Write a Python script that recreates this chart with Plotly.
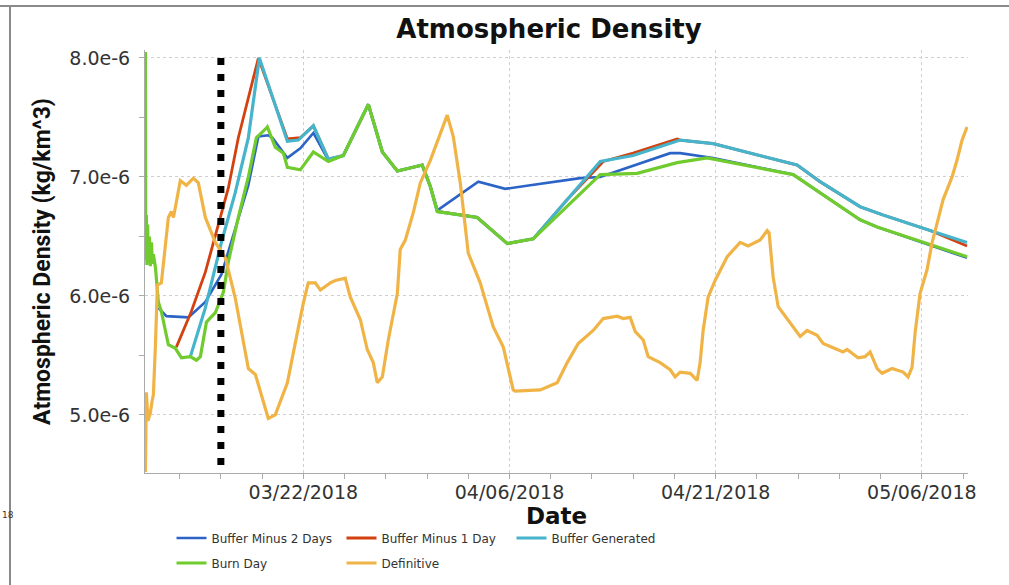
import pandas as pd
import plotly.graph_objects as go

# ---------------- data ----------------
REF_DATE = "2018-03-22"          # day offsets below are relative to this date
BURN_DATE = "2018-03-16"
X_START_DAY, X_END_DAY = -11.52, 48.36
Y_MIN, Y_MAX = 4.512e-6, 8.067e-6
UNIT = 1e-6                      # values below are in units of 1e-6 kg/km^3
Y_TICKS = [5.0, 6.0, 7.0, 8.0]
Y_TICK_LABELS = ["5.0e-6", "6.0e-6", "7.0e-6", "8.0e-6"]

b2_days = [-10.55, -9.96, -8.36, -7.13, -5.96, -4.95, -4.0, -3.27, -2.55, -2.25,
           -1.16, -0.22, 0.73, 1.82, 2.91, 4.73, 5.75, 6.84, 8.65, 9.24, 9.75,
           12.73, 14.69, 16.51, 20.15, 21.6, 26.69, 27.42, 29.82, 35.64, 40.51,
           41.75, 48.29]
b2_vals = [5.90, 5.83, 5.82, 5.95, 6.18, 6.57, 6.93, 7.34, 7.35, 7.33,
           7.16, 7.24, 7.37, 7.14, 7.18, 7.61, 7.21, 7.05, 7.10, 6.92, 6.72,
           6.96, 6.90, 6.93, 6.99, 7.00, 7.20, 7.20, 7.16, 7.02, 6.64,
           6.58, 6.32]

b1_days = [-9.24, -8.15, -7.13, -6.18, -5.45, -4.73, -4.0, -3.27, -1.16, -0.22,
           0.73, 1.82, 2.91, 4.73, 5.75, 6.84, 8.65, 9.24, 9.75, 12.65, 14.84,
           16.73, 19.2, 21.82, 24.0, 27.2, 27.42, 29.82, 35.93, 37.6, 40.51,
           42.18, 45.6, 48.29]
b1_vals = [5.57, 5.87, 6.20, 6.60, 6.91, 7.33, 7.66, 8.00, 7.32, 7.33,
           7.43, 7.15, 7.18, 7.61, 7.21, 7.05, 7.10, 6.92, 6.71, 6.66, 6.44,
           6.48, 6.81, 7.13, 7.20, 7.32, 7.31, 7.28, 7.10, 6.96, 6.75,
           6.68, 6.55, 6.42]

gen_days = [-8.22, -7.13, -5.96, -4.95, -4.0, -3.2, -1.16, -0.36, 0.73, 1.82,
            2.91, 4.73, 5.75, 6.84, 8.65, 9.24, 9.75, 12.65, 14.84, 16.73,
            21.6, 24.0, 27.42, 29.82, 35.93, 37.6, 40.51, 42.18, 45.6, 48.29]
gen_vals = [5.49, 5.90, 6.45, 6.87, 7.33, 8.00, 7.30, 7.31, 7.43, 7.15,
            7.18, 7.61, 7.21, 7.05, 7.10, 6.92, 6.71, 6.66, 6.44, 6.48,
            7.13, 7.18, 7.31, 7.28, 7.10, 6.96, 6.75, 6.68, 6.55, 6.45]

burn_days = [-11.49, -11.47, -11.42, -11.38, -11.33, -11.27, -11.2, -11.13, -11.05,
             -10.98, -10.91, -10.76, -10.55, -10.33, -9.82, -9.31, -8.87, -8.22,
             -7.78, -7.49, -7.05, -6.40, -5.82, -5.45, -4.73, -4.0, -3.42, -2.69,
             -2.62, -2.04, -1.45, -1.16, -0.22, 0.73, 1.82, 2.91, 4.73, 5.75, 6.84,
             8.65, 9.24, 9.75, 12.65, 14.84, 16.73, 21.6, 24.29, 27.2, 29.38,
             35.64, 40.51, 41.75, 48.29]
burn_vals = [8.05, 6.30, 6.68, 6.26, 6.60, 6.28, 6.50, 6.25, 6.45,
             6.27, 6.35, 6.24, 5.95, 5.87, 5.59, 5.56, 5.48, 5.49,
             5.46, 5.49, 5.78, 5.86, 6.03, 6.29, 6.66, 7.00, 7.33, 7.41,
             7.42, 7.25, 7.20, 7.08, 7.06, 7.21, 7.13, 7.18, 7.61, 7.21, 7.05,
             7.10, 6.92, 6.71, 6.66, 6.44, 6.48, 7.02, 7.03, 7.12, 7.16,
             7.02, 6.64, 6.58, 6.33]

def_days = [-11.49, -11.45, -11.42, -11.3, -11.13, -11.0, -10.91, -10.76, -10.62,
            -10.33, -10.04, -9.82, -9.60, -9.45, -9.24, -8.95, -8.51, -8.0, -7.64,
            -7.13, -6.40, -5.67, -4.95, -4.51, -4.0, -3.49, -2.76, -2.55, -2.04,
            -1.16, -0.44, 0.0, 0.36, 0.87, 1.24, 1.96, 2.33, 3.05, 3.42, 4.15,
            4.65, 5.09, 5.38, 5.75, 6.18, 6.84, 7.05, 7.42, 8.0, 8.51, 9.24, 9.96,
            10.47, 10.91, 11.42, 12.0, 12.87, 13.38, 13.82, 14.55, 15.27, 15.42,
            17.24, 18.47, 19.2, 20.0, 21.09, 21.82, 22.84, 23.27, 23.78, 24.15,
            24.73, 25.09, 25.96, 26.69, 27.05, 27.42, 28.15, 28.65, 28.87, 29.09,
            29.45, 29.96, 30.84, 31.78, 32.36, 33.24, 33.75, 33.89, 34.18, 34.55,
            35.27, 36.15, 36.65, 37.38, 37.82, 38.84, 39.27, 39.56, 40.36, 40.87,
            41.24, 41.75, 42.11, 42.84, 43.64, 44.0, 44.29, 44.51, 44.87, 45.38,
            45.75, 46.11, 46.55, 47.2, 47.56, 47.93, 48.29]
def_vals = [4.52, 5.05, 5.19, 4.95, 5.02, 5.12, 5.17, 5.59, 6.09,
            6.11, 6.40, 6.66, 6.71, 6.66, 6.79, 6.97, 6.93, 6.99, 6.95,
            6.66, 6.45, 6.32, 5.98, 5.70, 5.39, 5.34, 5.06, 4.97, 5.00,
            5.27, 5.69, 5.94, 6.11, 6.11, 6.05, 6.11, 6.13, 6.15, 5.99, 5.80,
            5.55, 5.44, 5.27, 5.32, 5.63, 6.02, 6.39, 6.47, 6.70, 6.95, 7.14, 7.37,
            7.52, 7.34, 6.95, 6.36, 6.11, 5.91, 5.74, 5.57, 5.21, 5.20,
            5.21, 5.27, 5.44, 5.60, 5.71, 5.81, 5.83, 5.81, 5.82, 5.70,
            5.63, 5.49, 5.44, 5.38, 5.32, 5.36, 5.35, 5.29, 5.44, 5.71,
            5.99, 6.13, 6.33, 6.45, 6.42, 6.47, 6.55, 6.53, 6.16, 5.91,
            5.80, 5.66, 5.71, 5.67, 5.60, 5.55, 5.53, 5.55, 5.48, 5.49,
            5.53, 5.39, 5.35, 5.39, 5.36, 5.32, 5.40, 5.69, 6.02, 6.22,
            6.45, 6.61, 6.81, 7.00, 7.14, 7.31, 7.42]

series = [
    ("Buffer Minus 2 Days", b2_days, b2_vals, "#2c63c6", 2.6, "legend"),
    ("Buffer Minus 1 Day", b1_days, b1_vals, "#d2410f", 2.8, "legend"),
    ("Buffer Generated", gen_days, gen_vals, "#46b4cb", 3.2, "legend"),
    ("Burn Day", burn_days, burn_vals, "#70cc2e", 3.2, "legend2"),
    ("Definitive", def_days, def_vals, "#f0b446", 3.2, "legend2"),
]

# ---------------- figure ----------------
ref = pd.Timestamp(REF_DATE)
def to_dates(days):
    return [ref + pd.Timedelta(days=d) for d in days]

fig = go.Figure()
for name, days, vals, color, width, leg in series:
    fig.add_trace(go.Scatter(
        x=to_dates(days), y=[v * UNIT for v in vals], mode="lines", name=name,
        line=dict(color=color, width=width), legend=leg))

# burn-date marker line
fig.add_trace(go.Scatter(
    x=[pd.Timestamp(BURN_DATE)] * 2, y=[8.0e-6, Y_MIN], mode="lines",
    line=dict(color="black", width=7, dash="7px,9px"),
    showlegend=False, hoverinfo="skip"))

DAY_MS = 86400000
PL, PR, PT, PB = 145, 968, 50, 473      # plot-area edges in pixels
PW, PH = PR - PL, PB - PT

def px_x(px):
    return (px - PL) / PW

def px_y(py):
    return (PB - py) / PH

legend_common = dict(orientation="h", xanchor="left", yanchor="middle",
                     entrywidth=125, itemwidth=30,
                     font=dict(family="DejaVu Sans", size=12, color="#333333"),
                     bgcolor="rgba(0,0,0,0)")

fig.update_layout(
    width=1009, height=585,
    margin=dict(l=PL, r=1009 - PR, t=PT, b=585 - PB, autoexpand=False),
    paper_bgcolor="white", plot_bgcolor="white",
    title=dict(text="Atmospheric Density", x=px_x(549), xref="paper",
               y=1 - 29 / 585, yref="container", yanchor="middle", xanchor="center",
               automargin=False,
               font=dict(family="DejaVu Sans", size=26, color="#111111", weight="bold")),
    xaxis=dict(
        type="date", automargin=False,
        range=[ref + pd.Timedelta(days=X_START_DAY), ref + pd.Timedelta(days=X_END_DAY)],
        tick0=REF_DATE, dtick=15 * DAY_MS, tickformat="%m/%d/%Y",
        ticks="outside", ticklen=5, tickcolor="#aaaaaa", ticklabelstandoff=-3,
        showline=True, linecolor="#aaaaaa", linewidth=1,
        showgrid=True, gridcolor="#cfcfcf", griddash="dot", gridwidth=1,
        minor=dict(tick0=REF_DATE, dtick=3 * DAY_MS, ticks="outside", ticklen=5,
                   tickcolor="#aaaaaa", showgrid=False),
        tickfont=dict(family="DejaVu Sans", size=19, color="#333333"),
        title=dict(text="Date", standoff=0,
                   font=dict(family="DejaVu Sans", size=23, color="#111111", weight="bold")),
        zeroline=False,
    ),
    yaxis=dict(
        automargin=False,
        range=[Y_MIN, Y_MAX],
        tickvals=[v * UNIT for v in Y_TICKS], ticktext=Y_TICK_LABELS,
        ticks="outside", ticklen=5, tickcolor="#aaaaaa", ticklabelstandoff=5,
        showline=True, linecolor="#aaaaaa", linewidth=1,
        showgrid=True, gridcolor="#cfcfcf", griddash="dot", gridwidth=1,
        minor=dict(dtick=0.5e-6, tick0=0, ticks="outside", ticklen=5,
                   tickcolor="#aaaaaa", showgrid=False),
        tickfont=dict(family="DejaVu Sans", size=19, color="#333333"),
        title=dict(text="Atmospheric Density (kg/km^3)", standoff=12,
                   font=dict(family="Roboto", size=23, color="#111111", weight="bold")),
        zeroline=False,
    ),
    legend=dict(legend_common, x=px_x(171.5), y=px_y(538)),
    legend2=dict(legend_common, x=px_x(171.5), y=px_y(563)),
    showlegend=True,
)

# page frame lines of the original screenshot
fig.add_shape(type="line", xref="paper", yref="paper",
              x0=px_x(0), x1=px_x(1009), y0=px_y(6), y1=px_y(6),
              line=dict(color="#8a8a8a", width=2))
fig.add_shape(type="line", xref="paper", yref="paper",
              x0=px_x(10), x1=px_x(10), y0=px_y(6), y1=px_y(585),
              line=dict(color="#8a8a8a", width=2))
fig.add_annotation(text="18", xref="paper", yref="paper",
                   x=px_x(0), y=px_y(515), xanchor="left",
                   yanchor="middle", showarrow=False,
                   font=dict(family="DejaVu Sans", size=9, color="#333333"))

# remove the default 8px page margin so the figure sits at the window origin
fig.write_html("out.html",
               config={"displayModeBar": False},
               post_script="document.body.style.margin='0px';"
                           "document.body.style.overflow='hidden';")
